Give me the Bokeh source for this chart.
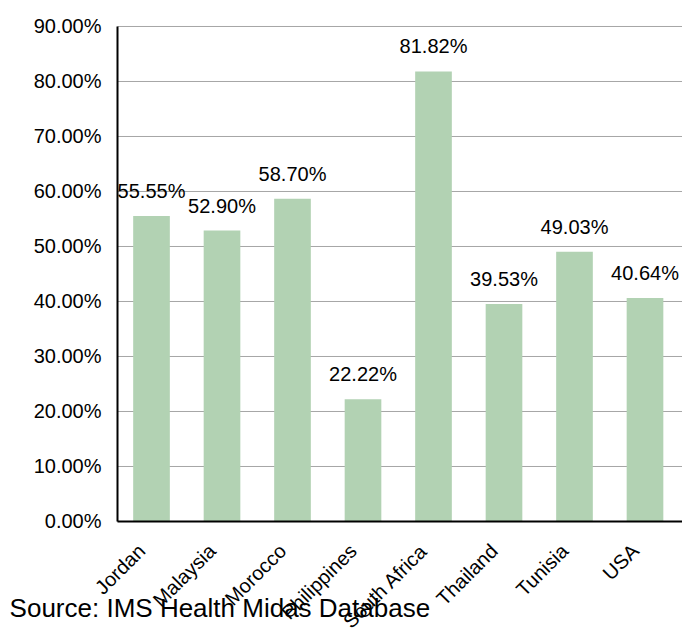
from bokeh.plotting import figure
from bokeh.models import (ColumnDataSource, LabelSet, FixedTicker, PrintfTickFormatter,
                          Range1d, LinearAxis)
from bokeh.core.properties import value
from bokeh.embed import file_html
from bokeh.resources import INLINE
import math

categories = ["Jordan", "Malaysia", "Morocco", "Philippines", "South Africa", "Thailand", "Tunisia", "USA"]
values = [55.55, 52.90, 58.70, 22.22, 81.82, 39.53, 49.03, 40.64]
y_ticks = [0, 10, 20, 30, 40, 50, 60, 70, 80, 90]
source_note = "Source: IMS Health Midas Database"

FONT = "Liberation Sans"
idx = list(range(len(categories)))
src = ColumnDataSource(dict(x=idx, top=values, label=[f"{v:.2f}%" for v in values]))

# plotting area limits (the axes sit at these); the frame fills the whole canvas
X_LEFT, X_RIGHT = -0.482, 7.532
LABEL_SHIFT = -0.14  # category labels sit slightly left of each bar centre
p = figure(width=682, height=633, output_backend="svg", toolbar_location=None,
           x_range=Range1d(-2.142, X_RIGHT), y_range=Range1d(-20.364, 94.727),
           min_border_left=0, min_border_top=0, min_border_right=0, min_border_bottom=0)
p.outline_line_color = None
p.background_fill_color = "white"

# horizontal gridlines limited to the plotting area
p.xgrid.visible = False
p.ygrid.visible = False
p.segment(x0=[X_LEFT] * len(y_ticks), x1=[X_RIGHT] * len(y_ticks), y0=y_ticks, y1=y_ticks,
          line_color="#a6a6a6", line_width=1)

p.vbar(x="x", top="top", bottom=0, width=0.52, source=src, fill_color="#b2d2b3", line_color=None)

labels = LabelSet(x="x", y="top", text="label", source=src, text_align="center",
                  text_baseline="alphabetic", y_offset=18, text_font=value(FONT),
                  text_font_size="20px", text_color="black")
p.add_layout(labels)

ya = p.yaxis[0]
ya.fixed_location = X_LEFT
ya.ticker = FixedTicker(ticks=y_ticks)
ya.bounds = (0, 90)
ya.formatter = PrintfTickFormatter(format="%.2f%%")
ya.axis_line_color = "black"
ya.axis_line_width = 2
ya.major_tick_out = 0
ya.major_tick_in = 0
ya.minor_tick_out = 0
ya.minor_tick_in = 0
ya.major_label_standoff = 16
ya.major_label_text_font = FONT
ya.major_label_text_font_size = "20px"
ya.major_label_text_color = "black"

xa = p.xaxis[0]
xa.fixed_location = 0
xa.bounds = (X_LEFT, X_RIGHT)
label_ticks = [i + LABEL_SHIFT for i in idx]
xa.ticker = FixedTicker(ticks=label_ticks)
xa.major_label_overrides = {t: c for t, c in zip(label_ticks, categories)}
xa.major_label_orientation = math.pi / 4
xa.axis_line_color = "black"
xa.axis_line_width = 2
xa.major_tick_out = 0
xa.major_tick_in = 0
xa.minor_tick_out = 0
xa.minor_tick_in = 0
xa.major_label_standoff = 26
xa.major_label_text_font = FONT
xa.major_label_text_font_size = "20px"
xa.major_label_text_color = "black"

# source note, drawn as an unlined axis label so it may overlap the category labels
note_pos = 0.97
note_axis = LinearAxis(fixed_location=-13.0, ticker=FixedTicker(ticks=[note_pos]),
                       major_label_overrides={note_pos: source_note},
                       major_label_orientation="horizontal",
                       axis_line_color=None, major_tick_out=0, major_tick_in=0,
                       minor_tick_out=0, minor_tick_in=0, major_label_standoff=0,
                       major_label_text_font=FONT, major_label_text_font_size="26px",
                       major_label_text_color="black")
p.add_layout(note_axis, "below")

open("out.html", "w").write(file_html(p, INLINE))
